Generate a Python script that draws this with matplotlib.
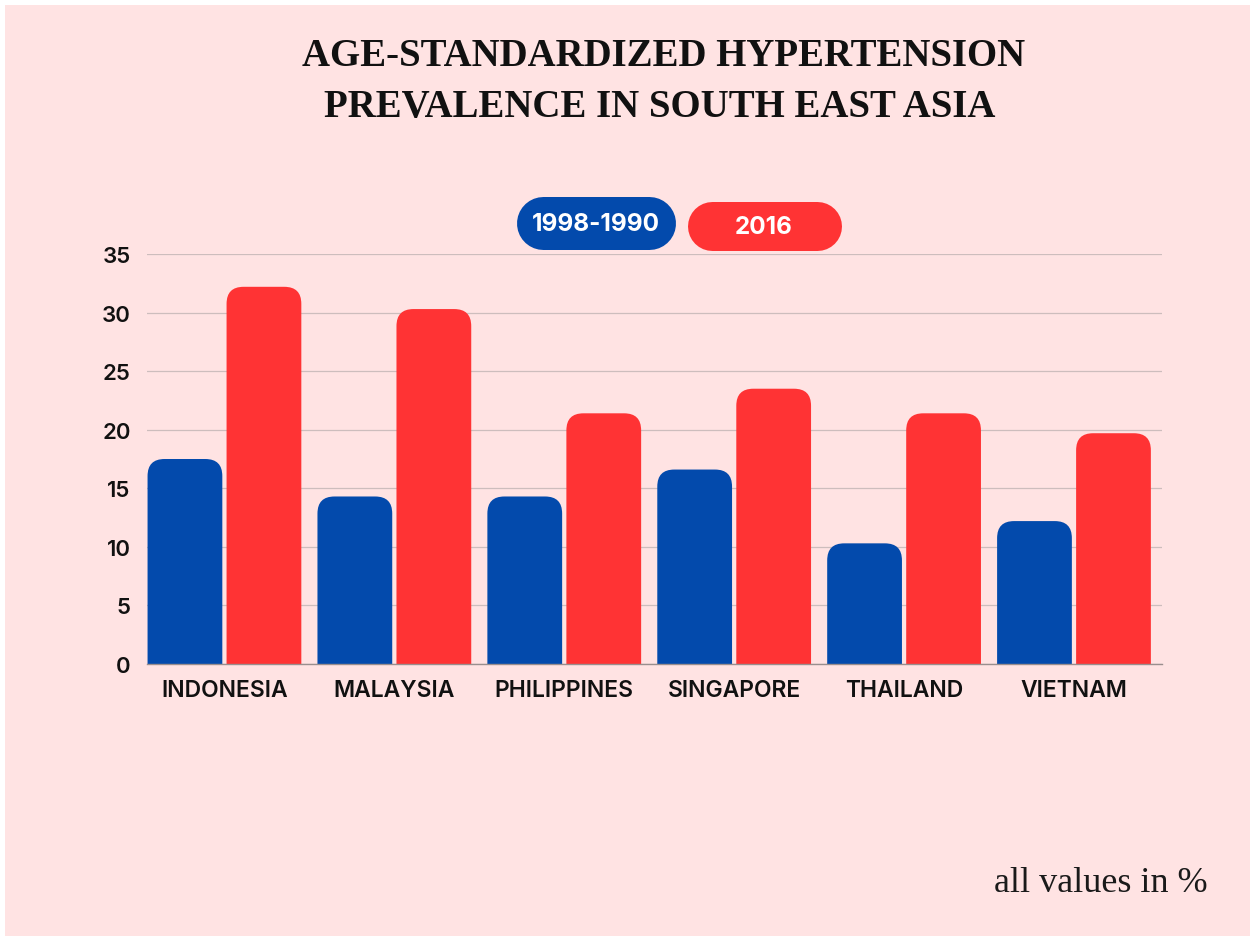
import matplotlib
matplotlib.use("Agg")
import matplotlib.pyplot as plt
from matplotlib.patches import FancyBboxPatch, Rectangle
import numpy as np

countries = ["INDONESIA", "MALAYSIA", "PHILIPPINES", "SINGAPORE", "THAILAND", "VIETNAM"]
values_1990 = [17.5, 14.3, 14.3, 16.6, 10.3, 12.2]
values_2016 = [32.2, 30.3, 21.4, 23.5, 21.4, 19.7]
series_labels = ["1998-1990", "2016"]
yticks = [0, 5, 10, 15, 20, 25, 30, 35]

BLUE = "#034AAC"
RED = "#FF3334"
BG = "#FFE3E3"

W, H = 1250, 937
fig = plt.figure(figsize=(W / 100, H / 100), dpi=100)
fig.patch.set_facecolor("white")

def fx(px):
    return px / W

def fy(py):
    return 1 - py / H

# overlay axes in pixel coordinates (for background and legend pills)
ov = fig.add_axes([0, 0, 1, 1], zorder=-5)
ov.set_xlim(0, W)
ov.set_ylim(H, 0)
ov.axis("off")
ov.add_patch(Rectangle((5, 6), W - 5, H - 6, facecolor=BG, edgecolor="none"))

ax = fig.add_axes([fx(147.3), fy(665), fx(1162) - fx(147.3), fy(255) - fy(665)])
ax.set_facecolor("none")

x = np.arange(len(countries))
offset = 0.2325
width = 0.44
b1 = ax.bar(x - offset, values_1990, width, color=BLUE)
b2 = ax.bar(x + offset, values_2016, width, color=RED)

ax.set_xlim(-0.454, 5.518)
ax.set_ylim(0, 35)

# replace bars with rounded-top versions
rx = 0.1
ry = rx * 169.9 / 11.714
for bars, col in ((b1, BLUE), (b2, RED)):
    for r in bars:
        r.set_visible(False)
        x0, w, h = r.get_x(), r.get_width(), r.get_height()
        p = FancyBboxPatch((x0, -3), w, h + 3,
                           boxstyle=f"round,pad=0,rounding_size={rx}",
                           mutation_aspect=ry / rx,
                           facecolor=col, edgecolor="none", zorder=3)
        p.set_clip_path(ax.patch)
        ax.add_patch(p)

ax.set_yticks(yticks)
ax.set_yticklabels([str(t) for t in yticks])
ax.set_xticks(x)
ax.set_xticklabels(countries)
ax.tick_params(axis="both", length=0)
ax.tick_params(axis="y", pad=12, labelsize=16, labelcolor="#111111")
ax.tick_params(axis="x", pad=11, labelsize=16.5, labelcolor="#111111")
for lab in ax.get_xticklabels() + ax.get_yticklabels():
    lab.set_family(["Inter", "DejaVu Sans"])
    lab.set_fontweight("semibold")

ax.grid(axis="y", color="#CDBDBD", linewidth=0.9, zorder=0)
ax.set_axisbelow(True)
for s in ("top", "right", "left"):
    ax.spines[s].set_visible(False)
ax.spines["bottom"].set_color("#9A8E8E")
ax.spines["bottom"].set_linewidth(1.0)
ax.spines["bottom"].set_zorder(4)

# title
fig.text(fx(664), fy(57), "AGE-STANDARDIZED HYPERTENSION", ha="center", va="center",
         fontsize=28, fontweight="bold", family="Liberation Serif", color="#111111")
fig.text(fx(660), fy(107), "PREVALENCE IN SOUTH EAST ASIA", ha="center", va="center",
         fontsize=28, fontweight="bold", family="Liberation Serif", color="#111111")

# legend pills (thick lines with round caps give perfect semicircular ends)
pills = [(516, 197, 675, 250, BLUE, series_labels[0]),
         (687, 202, 841, 251, RED, series_labels[1])]
for x0, y0, x1, y1, col, lab in pills:
    hpx = y1 - y0
    r = hpx / 2
    yc = (y0 + y1) / 2
    ov.plot([x0 + r, x1 - r], [yc, yc], color=col, linewidth=hpx * 0.72,
            solid_capstyle="round")
    fig.text(fx((x0 + x1) / 2), fy(yc + 1), lab, ha="center", va="center",
             color="white", fontsize=17.5, fontweight="bold", family=["Inter", "DejaVu Sans"])

fig.text(fx(1208), fy(884), "all values in %", ha="right", va="center",
         fontsize=26, family="Liberation Serif", color="#1a1a1a")

fig.savefig("out.png", dpi=100, facecolor=fig.get_facecolor())
